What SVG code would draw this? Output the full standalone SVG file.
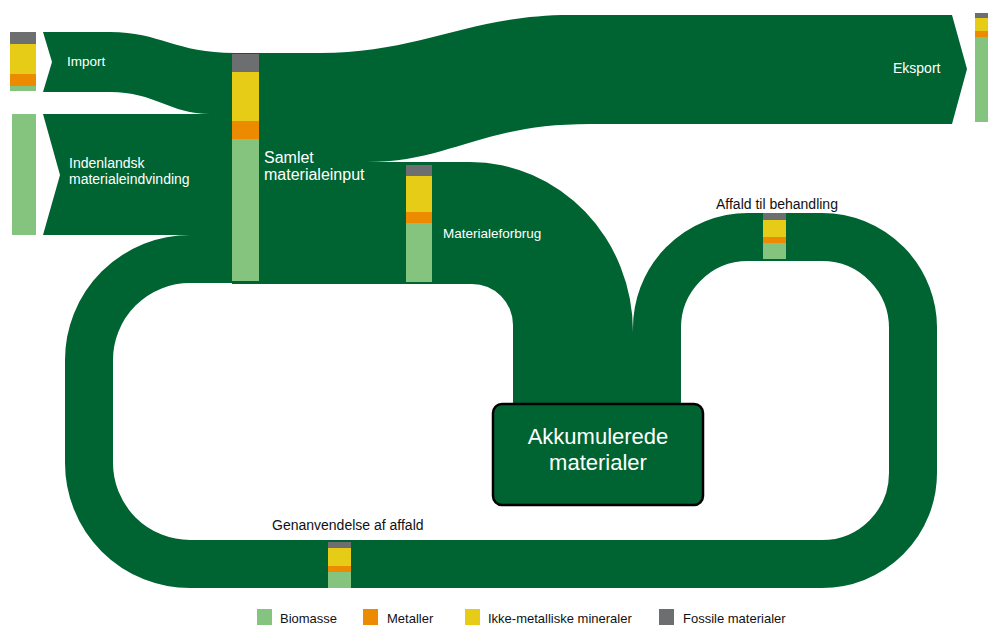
<svg xmlns="http://www.w3.org/2000/svg" width="988" height="625" viewBox="0 0 988 625">
<style>
.flow{fill:#006432}
.loop{fill:none;stroke:#006432;stroke-width:48}
.fg{fill:#6d6e70}
.fy{fill:#e6cc17}
.fo{fill:#ec8b00}
.fb{fill:#85c47e}
.wt{font-family:"Liberation Sans",Arial,sans-serif;fill:#ffffff}
.bt{font-family:"Liberation Sans",Arial,sans-serif;fill:#111111}
</style>
<rect width="988" height="625" fill="#ffffff"/>
<g id="connectors">
  <path class="flow" d="M43,32 L110,32 C160,32 175,53 235,53 L240,53 L240,114 L210,114 C170,114 155,92 110,92 L43,92 L52,62 Z"/>
  <path class="flow" d="M43,114 L240,114 L240,235 L43,235 L60,175 Z"/>
  <path class="flow" d="M232,53 L320,53 C420,53 470,15 570,15 L952,15 L967,69 L952,124 L590,124 C480,124 450,162 367,162 L470,162 A163,170 0 0 1 633,332 L633,405 L513,405 L513,325 A41,41 0 0 0 472,284 L232,284 Z"/>
  <path class="loop" d="M240,259 L190,259 A101,101 0 0 0 89,360 L89,463 A101,101 0 0 0 190,564 L822,564 A91,91 0 0 0 913,473 L913,330 A91,91 0 0 0 822,237 L748,237 A91,91 0 0 0 657,330 L657,410"/>
</g>
<g id="import">
  <rect class="fg" x="10" y="32" width="26" height="12"/>
  <rect class="fy" x="10" y="44" width="26" height="30"/>
  <rect class="fo" x="10" y="74" width="26" height="12"/>
  <rect class="fb" x="10" y="86" width="26" height="5"/>
  <text class="wt" x="67" y="66" font-size="13.5">Import</text>
</g>
<g id="indenlandsk">
  <rect class="fb" x="12" y="114" width="24" height="121"/>
  <text class="wt" x="69" y="168" font-size="14">Indenlandsk</text>
  <text class="wt" x="69" y="184" font-size="14">materialeindvinding</text>
</g>
<g id="samlet">
  <rect class="fg" x="232" y="54" width="27" height="18"/>
  <rect class="fy" x="232" y="72" width="27" height="49"/>
  <rect class="fo" x="232" y="121" width="27" height="18"/>
  <rect class="fb" x="232" y="139" width="27" height="142"/>
  <text class="wt" x="264" y="163" font-size="16">Samlet</text>
  <text class="wt" x="264" y="180" font-size="16">materialeinput</text>
</g>
<g id="materialeforbrug">
  <rect class="fg" x="406" y="165" width="26" height="11"/>
  <rect class="fy" x="406" y="176" width="26" height="36"/>
  <rect class="fo" x="406" y="212" width="26" height="11"/>
  <rect class="fb" x="406" y="223" width="26" height="59"/>
  <text class="wt" x="443" y="238" font-size="13.5">Materialeforbrug</text>
</g>
<g id="eksport">
  <rect class="fg" x="975" y="13" width="13" height="5"/>
  <rect class="fy" x="975" y="18" width="13" height="13"/>
  <rect class="fo" x="975" y="31" width="13" height="6"/>
  <rect class="fb" x="975" y="37" width="13" height="85"/>
  <text class="wt" x="893" y="73" font-size="14">Eksport</text>
</g>
<g id="affald">
  <rect class="fg" x="763" y="213" width="23" height="7"/>
  <rect class="fy" x="763" y="220" width="23" height="17"/>
  <rect class="fo" x="763" y="237" width="23" height="6"/>
  <rect class="fb" x="763" y="243" width="23" height="16"/>
  <text class="bt" x="716" y="209" font-size="14">Affald til behandling</text>
</g>
<g id="genanvendelse">
  <rect class="fg" x="328" y="542" width="23" height="6"/>
  <rect class="fy" x="328" y="548" width="23" height="18"/>
  <rect class="fo" x="328" y="566" width="23" height="6"/>
  <rect class="fb" x="328" y="572" width="23" height="16"/>
  <text class="bt" x="272" y="530" font-size="14">Genanvendelse af affald</text>
</g>
<g id="akkumulerede">
  <rect x="493" y="404" width="210" height="101" rx="9" fill="#006432" stroke="#000000" stroke-width="2.5"/>
  <text class="wt" x="598" y="444" font-size="22" text-anchor="middle">Akkumulerede</text>
  <text class="wt" x="598" y="470" font-size="22" text-anchor="middle">materialer</text>
</g>
<g id="legend">
  <rect class="fb" x="257" y="609" width="15" height="16"/>
  <text class="bt" x="280" y="623" font-size="13">Biomasse</text>
  <rect class="fo" x="363" y="609" width="15" height="16"/>
  <text class="bt" x="387" y="623" font-size="13">Metaller</text>
  <rect class="fy" x="465" y="609" width="15" height="16"/>
  <text class="bt" x="488" y="623" font-size="13">Ikke-metalliske mineraler</text>
  <rect class="fg" x="659" y="609" width="15" height="16"/>
  <text class="bt" x="683" y="623" font-size="13">Fossile materialer</text>
</g>
</svg>
